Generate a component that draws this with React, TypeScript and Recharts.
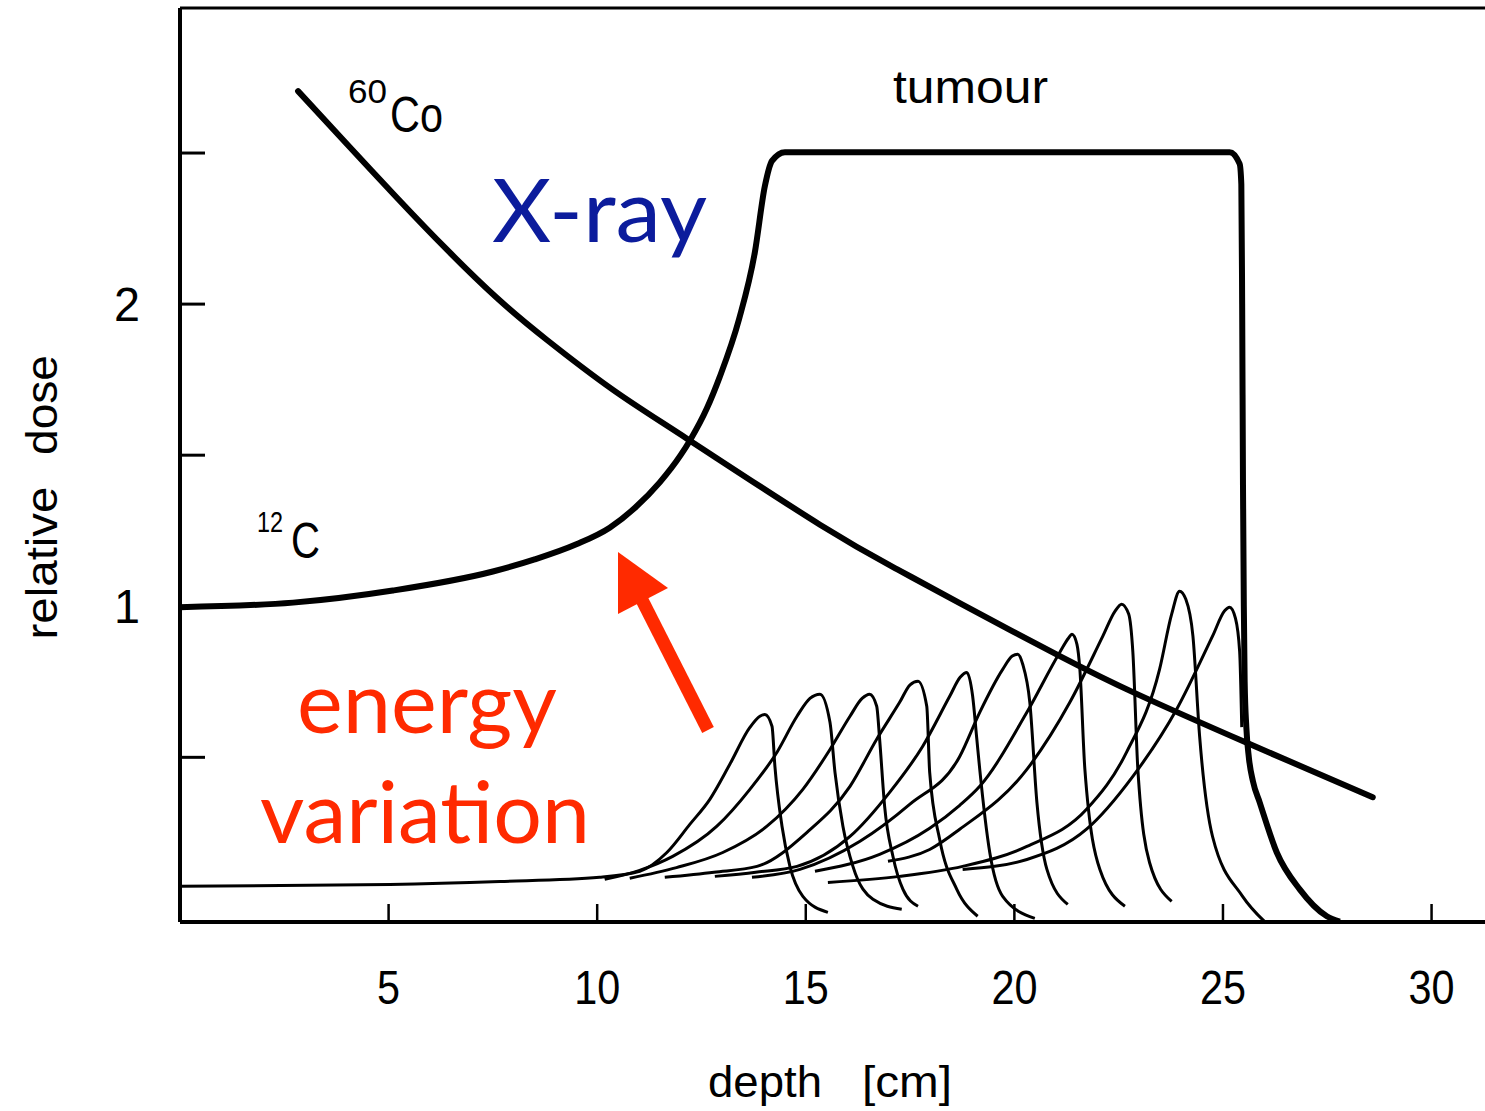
import React from 'react';
import { LineChart, Line, XAxis, YAxis, ReferenceLine } from 'recharts';

// depth in cm, dose relative to the entrance dose of the carbon beam
const depthTicks = [5, 10, 15, 20, 25, 30];
const doseTicks = [0.5, 1, 1.5, 2, 2.5];
const labelledDoseTicks = [1, 2];

const cobalt60: [number, number][] = [
  [2.83, 2.705], [4.0, 2.53], [5.2, 2.352], [6.4, 2.18], [7.6, 2.02],
  [8.79, 1.882], [10.38, 1.716], [12.17, 1.553], [15.34, 1.27], [17.25, 1.118],
  [18.69, 1.01], [21.09, 0.835], [22.93, 0.71], [25.57, 0.548], [28.59, 0.368],
];

const carbonSobp: [number, number][] = [
  [0, 0.997], [2.71, 1.012], [5.1, 1.052], [7.5, 1.115], [8.5, 1.155],
  [9.5, 1.205], [10.3, 1.26], [10.9, 1.325], [11.5, 1.41], [12.0, 1.5],
  [12.22, 1.548], [12.63, 1.655], [12.94, 1.76], [13.4, 1.95], [13.78, 2.172],
  [14.02, 2.391], [14.19, 2.474], [14.5, 2.503], [20.0, 2.503], [25.16, 2.503],
  [25.4, 2.464], [25.44, 2.397], [25.46, 2.0], [25.48, 1.4], [25.5, 1.0],
  [25.52, 0.75], [25.56, 0.6], [25.62, 0.5], [25.72, 0.42], [25.88, 0.351],
  [26.29, 0.185], [26.84, 0.063], [27.49, -0.026], [27.8, -0.044],
];

// single (pristine) Bragg peaks for the energy steps
const bragg1: [number, number][] = [
  [0, 0.073], [5.03, 0.079], [7.67, 0.089], [10.06, 0.103], [11.02, 0.123],
  [11.67, 0.185], [12.22, 0.278], [12.7, 0.361], [13.18, 0.477], [13.66, 0.599],
  [13.9, 0.636], [14.02, 0.642], [14.19, 0.603], [14.26, 0.47], [14.43, 0.272],
  [14.62, 0.139], [14.93, 0.04], [15.53, -0.013],
];
const bragg2: [number, number][] = [
  [10.18, 0.096], [11.0, 0.125], [11.81, 0.172], [12.87, 0.272], [13.66, 0.394],
  [14.31, 0.517], [14.79, 0.636], [15.1, 0.695], [15.34, 0.709], [15.58, 0.616],
  [15.7, 0.45], [15.89, 0.272], [16.13, 0.139], [16.61, 0.03], [17.3, -0.003],
];
const bragg3: [number, number][] = [
  [10.78, 0.1], [11.9, 0.135], [13.01, 0.185], [14.07, 0.272], [14.93, 0.394],
  [15.58, 0.526], [16.06, 0.636], [16.35, 0.695], [16.53, 0.709], [16.7, 0.669],
  [16.77, 0.56], [16.89, 0.338], [17.09, 0.172], [17.33, 0.063], [17.69, 0.007],
];
const bragg4: [number, number][] = [
  [11.62, 0.103], [12.8, 0.12], [13.83, 0.139], [15.03, 0.252], [16.06, 0.404],
  [16.7, 0.56], [17.25, 0.682], [17.5, 0.74], [17.69, 0.752], [17.9, 0.669],
  [17.97, 0.45], [18.21, 0.228], [18.62, 0.063], [19.12, -0.026],
];
const bragg5: [number, number][] = [
  [12.82, 0.106], [13.8, 0.12], [14.79, 0.139], [16.06, 0.238], [17.01, 0.384],
  [17.8, 0.536], [18.45, 0.702], [18.7, 0.765], [18.86, 0.781], [19.0, 0.702],
  [19.1, 0.56], [19.17, 0.46], [19.41, 0.185], [19.72, 0.04], [20.49, -0.033],
];
const bragg6: [number, number][] = [
  [13.71, 0.103], [14.86, 0.129], [16.3, 0.222], [17.49, 0.344], [18.69, 0.503],
  [19.17, 0.649], [19.72, 0.791], [19.95, 0.835], [20.08, 0.841], [20.2, 0.808],
  [20.37, 0.682], [20.54, 0.351], [20.78, 0.129], [21.28, 0.013],
];
const bragg7: [number, number][] = [
  [15.22, 0.123], [16.77, 0.179], [17.97, 0.265], [18.69, 0.341], [19.17, 0.404],
  [20.3, 0.649], [21.09, 0.848], [21.3, 0.895], [21.38, 0.907], [21.5, 0.874],
  [21.57, 0.791], [21.69, 0.46], [22.05, 0.129], [22.65, 0.007],
];
const bragg8: [number, number][] = [
  [16.97, 0.156], [17.97, 0.195], [18.69, 0.262], [20.3, 0.46], [21.33, 0.682],
  [22.12, 0.901], [22.41, 0.983], [22.57, 1.007], [22.74, 0.974], [22.84, 0.848],
  [22.96, 0.46], [23.24, 0.152], [23.77, 0.023],
];
const bragg9: [number, number][] = [
  [15.53, 0.086], [17.25, 0.106], [18.76, 0.139], [20.3, 0.205], [21.73, 0.328],
  [22.69, 0.517], [23.48, 0.791], [23.77, 0.974], [23.96, 1.05], [24.11, 1.023],
  [24.28, 0.901], [24.44, 0.57], [24.75, 0.238], [25.47, 0.04], [26.0, -0.044],
];
const bragg10: [number, number][] = [
  [18.76, 0.129], [20.3, 0.162], [21.73, 0.262], [22.84, 0.437], [23.89, 0.659],
  [24.75, 0.901], [25.04, 0.985], [25.16, 0.997], [25.3, 0.96], [25.4, 0.85],
  [25.45, 0.6],
];

const braggPeaks = [bragg1, bragg2, bragg3, bragg4, bragg5, bragg6, bragg7, bragg8, bragg9, bragg10];

const DOSE_MIN = -0.045;
const DOSE_MAX = 2.98;

const toPoints = (pairs: [number, number][]) => pairs.map(([d, v]) => ({ d, v }));

const scanFont = '"Liberation Sans", Arial, sans-serif';
const slideFont = 'Lato, "Open Sans", sans-serif';
const red = '#ff2a00';
const blue = '#0c1c9c';

const DepthTick = (props: any) => {
  const { x, y, payload } = props;
  const label = String(payload.value);
  return (
    <g>
      <line x1={x} y1={y} x2={x} y2={y - 18} stroke="#000" strokeWidth={2.5} />
      <text
        x={x}
        y={y + 82}
        textAnchor="middle"
        fontFamily={scanFont}
        fontSize={48}
        fill="#000"
        textLength={23 * label.length}
        lengthAdjust="spacingAndGlyphs"
      >
        {label}
      </text>
    </g>
  );
};

const DoseTick = (props: any) => {
  const { x, y, payload } = props;
  return (
    <g>
      <line x1={x} y1={y} x2={x + 25} y2={y} stroke="#000" strokeWidth={3} />
      {labelledDoseTicks.includes(payload.value) && (
        <text
          x={x - 40}
          y={y + 17}
          textAnchor="end"
          fontFamily={scanFont}
          fontSize={48}
          fill="#000"
          textLength={26}
          lengthAdjust="spacingAndGlyphs"
        >
          {payload.value}
        </text>
      )}
    </g>
  );
};

const Annotations = () => (
  <svg
    width={1485}
    height={1111}
    style={{ position: 'absolute', left: 0, top: 0, pointerEvents: 'none' }}
  >
    {/* axis titles */}
    <g fontFamily={scanFont} fontSize={44} fill="#000">
      <text x={57} y={563} transform="rotate(-90 57 563)" textAnchor="middle" textLength={153} lengthAdjust="spacingAndGlyphs">relative</text>
      <text x={57} y={405} transform="rotate(-90 57 405)" textAnchor="middle" textLength={100} lengthAdjust="spacingAndGlyphs">dose</text>
      <text x={708} y={1097} textLength={114} lengthAdjust="spacingAndGlyphs">depth</text>
      <text x={862} y={1097} textLength={90} lengthAdjust="spacingAndGlyphs">[cm]</text>
    </g>

    {/* curve labels from the original figure */}
    <g fontFamily={scanFont} fill="#000">
      <text x={893} y={103} fontSize={46} textLength={155} lengthAdjust="spacingAndGlyphs">tumour</text>
      <text x={348} y={103} fontSize={34} textLength={39} lengthAdjust="spacingAndGlyphs">60</text>
      <text x={390} y={132} fontSize={50} textLength={53} lengthAdjust="spacingAndGlyphs">Co</text>
      <text x={257} y={532} fontSize={30} textLength={26} lengthAdjust="spacingAndGlyphs">12</text>
      <text x={291} y={558} fontSize={50} textLength={29} lengthAdjust="spacingAndGlyphs">C</text>
    </g>

    {/* slide annotations */}
    <text x={492} y={242} fontFamily={slideFont} fontSize={88} fill={blue} textLength={215} lengthAdjust="spacingAndGlyphs">X-ray</text>
    <text x={297} y={733} fontFamily={slideFont} fontSize={86} fill={red} textLength={260} lengthAdjust="spacingAndGlyphs">energy</text>
    <text x={260} y={843} fontFamily={slideFont} fontSize={86} fill={red} textLength={330} lengthAdjust="spacingAndGlyphs">variation</text>
    <line x1={708} y1={730} x2={641} y2={598} stroke={red} strokeWidth={13} />
    <polygon points="618,552 668,588 618,614" fill={red} />
  </svg>
);

export default function App() {
  return (
    <div
      style={{
        position: 'absolute',
        left: 0,
        top: 0,
        width: 1485,
        height: 1111,
        overflow: 'hidden',
        background: '#fff',
      }}
    >
      <LineChart width={1540} height={1111} margin={{ top: 8, right: 25, bottom: 0, left: 0 }}>
        <XAxis
          type="number"
          dataKey="d"
          domain={[0, 32]}
          ticks={depthTicks}
          interval={0}
          allowDataOverflow
          height={189}
          tickSize={0}
          tickMargin={0}
          tickLine={false}
          axisLine={{ stroke: '#000', strokeWidth: 4 }}
          tick={(p: any) => <DepthTick {...p} />}
        />
        <YAxis
          type="number"
          domain={[DOSE_MIN, DOSE_MAX]}
          ticks={doseTicks}
          interval={0}
          allowDataOverflow
          width={180}
          tickSize={0}
          tickMargin={0}
          tickLine={false}
          axisLine={{ stroke: '#000', strokeWidth: 4 }}
          tick={(p: any) => <DoseTick {...p} />}
        />
        <ReferenceLine y={DOSE_MAX} stroke="#000" strokeWidth={3} />
        {braggPeaks.map((peak, i) => (
          <Line
            key={`bragg-${i}`}
            data={toPoints(peak)}
            dataKey="v"
            type="monotone"
            stroke="#000"
            strokeWidth={3}
            dot={false}
            activeDot={false}
            isAnimationActive={false}
          />
        ))}
        <Line
          data={toPoints(cobalt60)}
          dataKey="v"
          type="natural"
          stroke="#000"
          strokeWidth={6}
          strokeLinecap="round"
          dot={false}
          activeDot={false}
          isAnimationActive={false}
        />
        <Line
          data={toPoints(carbonSobp)}
          dataKey="v"
          type="monotone"
          stroke="#000"
          strokeWidth={6}
          dot={false}
          activeDot={false}
          isAnimationActive={false}
        />
      </LineChart>
      <Annotations />
    </div>
  );
}
